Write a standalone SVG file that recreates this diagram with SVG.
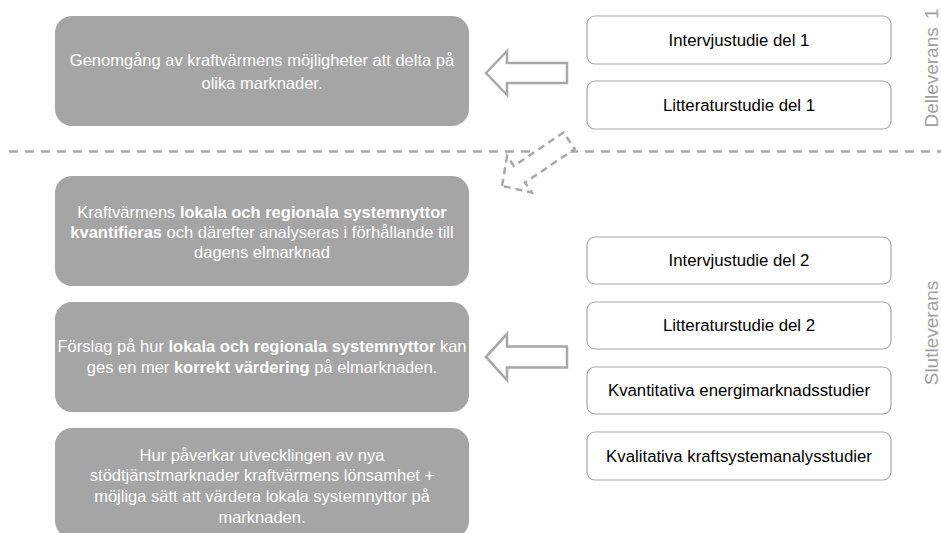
<svg xmlns="http://www.w3.org/2000/svg" width="941" height="533" viewBox="0 0 941 533">
<style>
.gbox{fill:#a5a5a5;}
.gtxt{font-family:"Liberation Sans",Arial,sans-serif;font-size:16.5px;fill:#ffffff;text-anchor:middle;}
.b{font-weight:bold;}
.wbox{fill:#ffffff;stroke:#a8a8a8;stroke-width:1.2;}
.wtxt{font-family:"Liberation Sans",Arial,sans-serif;font-size:16.8px;fill:#000000;text-anchor:middle;}
.arr{fill:#ffffff;stroke:#a8a8a8;stroke-width:2.5;stroke-linejoin:miter;}
.darr{fill:#ffffff;stroke:#a8a8a8;stroke-width:2.5;stroke-dasharray:7 5;}
.sep{stroke:#a8a8a8;stroke-width:2.5;stroke-dasharray:9 7;fill:none;}
.vlab{font-family:"Liberation Sans",Arial,sans-serif;font-size:19px;fill:#a0a0a0;text-anchor:middle;}
</style>
<defs>
<polygon id="blockArrow" points="0,0 21,-22 21,-10 81,-10 81,10 21,10 21,22"/>
</defs>
<line class="sep" x1="9" y1="151.5" x2="941" y2="151.5"/>
<g id="connectors">
<use href="#blockArrow" class="arr" transform="translate(486,73)"/>
<use href="#blockArrow" class="darr" transform="translate(502,186) rotate(-34)"/>
<use href="#blockArrow" class="arr" transform="translate(486,357) scale(1,1.05)"/>
</g>
<g id="g1">
<rect class="gbox" x="55" y="16" width="414" height="110" rx="17"/>
<text class="gtxt" x="262" y="66">Genomgång av kraftvärmens möjligheter att delta på</text>
<text class="gtxt" x="262" y="89">olika marknader.</text>
</g>
<g id="g2">
<rect class="gbox" x="55" y="176" width="414" height="110" rx="17"/>
<text class="gtxt" x="262" y="218">Kraftvärmens <tspan class="b">lokala och regionala systemnyttor</tspan></text>
<text class="gtxt" x="262" y="238"><tspan class="b">kvantifieras</tspan> och därefter analyseras i förhållande till</text>
<text class="gtxt" x="262" y="258">dagens elmarknad</text>
</g>
<g id="g3">
<rect class="gbox" x="55" y="302" width="414" height="110" rx="17"/>
<text class="gtxt" x="262" y="352">Förslag på hur <tspan class="b">lokala och regionala systemnyttor</tspan> kan</text>
<text class="gtxt" x="262" y="373">ges en mer <tspan class="b">korrekt värdering</tspan> på elmarknaden.</text>
</g>
<g id="g4">
<rect class="gbox" x="55" y="428" width="414" height="110" rx="17"/>
<text class="gtxt" x="262" y="461">Hur påverkar utvecklingen av nya</text>
<text class="gtxt" x="262" y="481">stödtjänstmarknader kraftvärmens lönsamhet +</text>
<text class="gtxt" x="262" y="502">möjliga sätt att värdera lokala systemnyttor på</text>
<text class="gtxt" x="262" y="523">marknaden.</text>
</g>
<g id="w1">
<rect class="wbox" x="587" y="16" width="304" height="48" rx="8"/>
<text class="wtxt" x="739" y="46">Intervjustudie del 1</text>
</g>
<g id="w2">
<rect class="wbox" x="587" y="81" width="304" height="48" rx="8"/>
<text class="wtxt" x="739" y="111">Litteraturstudie del 1</text>
</g>
<g id="w3">
<rect class="wbox" x="587" y="237" width="304" height="47" rx="8"/>
<text class="wtxt" x="739" y="266">Intervjustudie del 2</text>
</g>
<g id="w4">
<rect class="wbox" x="587" y="302" width="304" height="47" rx="8"/>
<text class="wtxt" x="739" y="331">Litteraturstudie del 2</text>
</g>
<g id="w5">
<rect class="wbox" x="587" y="367" width="304" height="47" rx="8"/>
<text class="wtxt" x="739" y="396">Kvantitativa energimarknadsstudier</text>
</g>
<g id="w6">
<rect class="wbox" x="587" y="432" width="304" height="48" rx="8"/>
<text class="wtxt" x="739" y="462">Kvalitativa kraftsystemanalysstudier</text>
</g>
<g id="lab1">
<text class="vlab" transform="translate(938,68) rotate(-90)" word-spacing="3">Delleverans 1</text>
</g>
<g id="lab2">
<text class="vlab" transform="translate(938,333) rotate(-90)">Slutleverans</text>
</g>
</svg>
